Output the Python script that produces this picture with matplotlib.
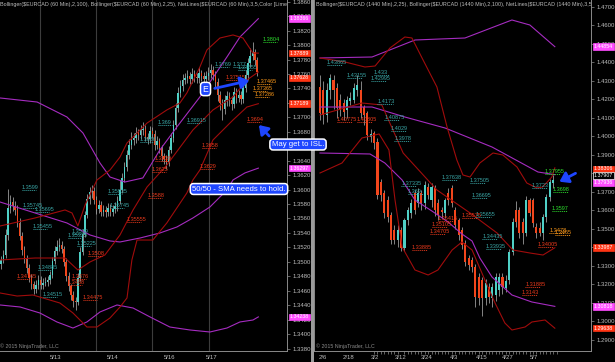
import matplotlib
matplotlib.use("Agg")
import matplotlib.pyplot as plt
from matplotlib.ticker import MultipleLocator, FormatStrFormatter

# ---------------- LEFT PANEL: $EURCAD 60 min ----------------
h_open = [1.3497,1.3503,1.3510,1.3537,1.3575,1.3583,1.3577,1.3572,1.3554,1.3536,
 1.3517,1.3504,1.3491,1.3478,1.3469,1.3462,1.3468,1.3475,1.3468,1.3471,
 1.3472,1.3475,1.3482,1.3501,1.3515,1.3521,1.3523,1.3518,1.3500,1.3480,
 1.3466,1.3454,1.3446,1.3444,1.3478,1.3514,1.3539,1.3565,1.3587,1.3596,
 1.3598,1.3586,1.3573,1.3579,1.3569,1.3572,1.3569,1.3575,1.3569,1.3573,
 1.3577,1.3584,1.3600,1.3616,1.3631,1.3648,1.3662,1.3669,1.3671,1.3678,
 1.3676,1.3682,1.3684,1.3673,1.3670,1.3681,1.3677,1.3662,1.3667,1.3658,
 1.3646,1.3642,1.3638,1.3655,1.3671,1.3689,1.3713,1.3734,1.3743,1.3752,
 1.3754,1.3757,1.3753,1.3760,1.3756,1.3754,1.3761,1.3757,1.3753,1.3757,
 1.3761,1.3766,1.3759,1.3749,1.3731,1.3720,1.3711,1.3724,1.3729,1.3724,
 1.3719,1.3735,1.3727,1.3731,1.3726,1.3740,1.3759,1.3775,1.3785,1.3790,
 1.3779]
h_close = [1.3503,1.3510,1.3537,1.3575,1.3583,1.3577,1.3572,1.3554,1.3536,1.3517,
 1.3504,1.3491,1.3478,1.3469,1.3462,1.3468,1.3475,1.3468,1.3471,1.3472,
 1.3475,1.3482,1.3501,1.3515,1.3521,1.3523,1.3518,1.3500,1.3480,1.3466,
 1.3454,1.3446,1.3444,1.3478,1.3514,1.3539,1.3565,1.3587,1.3596,1.3598,
 1.3586,1.3573,1.3579,1.3569,1.3572,1.3569,1.3575,1.3569,1.3573,1.3577,
 1.3584,1.3600,1.3616,1.3631,1.3648,1.3662,1.3669,1.3671,1.3678,1.3676,
 1.3682,1.3684,1.3673,1.3670,1.3681,1.3677,1.3662,1.3667,1.3658,1.3646,
 1.3642,1.3638,1.3655,1.3671,1.3689,1.3713,1.3734,1.3743,1.3752,1.3754,
 1.3757,1.3753,1.3760,1.3756,1.3754,1.3761,1.3757,1.3753,1.3757,1.3761,
 1.3766,1.3759,1.3749,1.3731,1.3720,1.3711,1.3724,1.3729,1.3724,1.3719,
 1.3735,1.3727,1.3731,1.3726,1.3740,1.3759,1.3775,1.3785,1.3790,1.3779,
 1.3763]
h_high = [1.3508,1.3516,1.3545,1.3601,1.3592,1.3590,1.3584,1.3578,1.3560,1.3541,
 1.3522,1.3510,1.3497,1.3483,1.3474,1.3475,1.3482,1.3480,1.3477,1.3479,
 1.3481,1.3488,1.3507,1.3522,1.3530,1.3533,1.3529,1.3522,1.3505,1.3486,
 1.3470,1.3460,1.3452,1.3484,1.3520,1.3546,1.3571,1.3594,1.3603,1.3606,
 1.3603,1.3591,1.3585,1.3584,1.3578,1.3577,1.3581,1.3580,1.3579,1.3583,
 1.3591,1.3613,1.3623,1.3638,1.3655,1.3670,1.3680,1.3679,1.3687,1.3684,
 1.3690,1.3693,1.3689,1.3679,1.3688,1.3686,1.3682,1.3674,1.3672,1.3662,
 1.3651,1.3648,1.3661,1.3678,1.3696,1.3720,1.3742,1.3751,1.3760,1.3762,
 1.3765,1.3763,1.3768,1.3766,1.3762,1.3769,1.3766,1.3763,1.3764,1.3769,
 1.3774,1.3771,1.3764,1.3754,1.3737,1.3726,1.3731,1.3737,1.3735,1.3730,
 1.3742,1.3741,1.3738,1.3737,1.3747,1.3766,1.3782,1.3796,1.3804,1.3794,
 1.3784]
h_low = [1.3490,1.3498,1.3505,1.3530,1.3568,1.3570,1.3565,1.3548,1.3530,1.3510,
 1.3498,1.3484,1.3472,1.3462,1.3455,1.3457,1.3463,1.3462,1.3463,1.3466,
 1.3467,1.3470,1.3478,1.3497,1.3510,1.3515,1.3512,1.3494,1.3474,1.3459,
 1.3447,1.3438,1.3433,1.3440,1.3474,1.3509,1.3534,1.3560,1.3580,1.3589,
 1.3580,1.3566,1.3567,1.3563,1.3563,1.3562,1.3564,1.3563,1.3563,1.3567,
 1.3571,1.3580,1.3595,1.3610,1.3626,1.3643,1.3656,1.3662,1.3665,1.3669,
 1.3670,1.3676,1.3667,1.3663,1.3665,1.3671,1.3655,1.3656,1.3651,1.3639,
 1.3635,1.3628,1.3632,1.3650,1.3666,1.3684,1.3708,1.3728,1.3737,1.3746,
 1.3748,1.3746,1.3747,1.3749,1.3747,1.3748,1.3750,1.3746,1.3747,1.3751,
 1.3755,1.3752,1.3742,1.3722,1.3710,1.3696,1.3704,1.3716,1.3715,1.3710,
 1.3713,1.3720,1.3721,1.3718,1.3720,1.3735,1.3752,1.3769,1.3779,1.3772,
 1.3757]

# Bollinger (2,100) purple, left panel
lp_up_x = [-0.4,15.5,28.3,35.2,42.5,46.8,53.2,60.9,68.2,75.5,85.4,97.0,102.6,110.5]
lp_up = [1.37268,1.37212,1.37005,1.36783,1.36368,1.36174,1.36105,1.36161,1.36548,1.36866,1.37282,1.37835,1.38112,1.38366]
lp_mid_x = [-0.4,28.3,38.2,46.8,51.1,59.7,68.2,75.5,82.4,89.7,97.0,99.6,104.7,110.5]
lp_mid = [1.35828,1.35538,1.35372,1.35289,1.35275,1.35330,1.35399,1.35482,1.35607,1.35759,1.35994,1.36133,1.36230,1.36297]
lp_lo_x = [-0.4,8.2,16.7,24.0,30.9,36.9,42.5,49.8,56.7,64.0,72.5,81.1,89.7,97.0,102.6,108.2,110.5]
lp_lo = [1.34403,1.34375,1.34292,1.34168,1.34084,1.34168,1.34306,1.34403,1.34361,1.34237,1.34098,1.34057,1.34029,1.34084,1.34168,1.34195,1.34238]
# Bollinger (2,25) dark red, left panel
lr_up_x = [-0.4,14.6,27.5,30.5,33.0,36.1,41.2,46.8,51.1,54.1,62.7,71.2,76.8,79.8,85.4,88.4,94.0,99.6,103.9,108.2,110.5]
lr_up = [1.35496,1.35607,1.35718,1.35676,1.35496,1.35787,1.36133,1.36271,1.36451,1.36645,1.36921,1.37102,1.37198,1.37337,1.37697,1.37932,1.38098,1.38140,1.38098,1.37889,1.37889]
lr_mid_x = [-0.4,14.6,27.5,33.0,38.2,44.6,51.1,56.7,62.7,71.2,82.4,91.0,99.6,105.6,110.5]
lr_mid = [1.35026,1.35053,1.35053,1.34887,1.34998,1.35095,1.35372,1.35718,1.36036,1.36340,1.36825,1.37102,1.37282,1.37517,1.37628]
lr_lo_x = [-0.4,6.9,13.7,25.3,30.9,36.9,41.2,46.8,51.1,54.1,56.2,58.4,65.2,71.2,79.8,82.4,85.4,91.0,99.6,105.6,110.5]
lr_lo = [1.34569,1.34527,1.34541,1.34430,1.34292,1.34098,1.34098,1.34223,1.34375,1.34500,1.35026,1.35302,1.35302,1.35538,1.35953,1.36133,1.36271,1.36686,1.36963,1.37143,1.37189]

l_date_pos = [23.6, 48.1, 72.5, 90.6]
l_date_lbl = ["5/13", "5/14", "5/16", "5/17"]
l_session_pos = [16.7, 40.8, 64.8, 89.3]

l_net_teal = ["1.3769","1.377","1.37655","1.369","1.36915","1.3666","1.3599","1.35745","1.35695",
              "1.35455","1.3539","1.35325","1.35225","1.34885","1.35935","1.35745","1.34515"]
l_net_teal_at = [91.8,99.6,101.7,67.4,79.8,59.7,9.0,9.4,14.6,13.7,30.5,28.8,32.6,15.9,45.9,46.8,18.0]
l_net_red = ["1.3694","1.3658","1.3639","1.3629","1.3625","1.34765","1.3508","1.3476","1.3468",
             "1.34475","1.3588","1.35555","1.37515"]
l_net_red_at = [105.6,86.3,66.1,85.4,64.8,6.9,37.3,30.5,28.8,35.2,63.1,54.1,96.5]
l_net_orange = ["1.37465","1.37365","1.37286"]
l_net_orange_at = [109.9,108.2,109.0]
l_net_green = ["1.3804"]
l_net_green_at = [112.4]

l_marks = ["1.38366","1.37889","1.37628","1.37189","1.36297","1.34238"]
l_mark_kind = ["m","r","r","r","m","m"]

# ---------------- RIGHT PANEL: $EURCAD 1440 min ----------------
d_open = [1.4268,1.4252,1.4116,1.4252,1.4306,1.4262,1.4197,1.4181,1.4143,1.4192,
 1.4197,1.4252,1.4252,1.4159,1.4127,1.3997,1.4019,1.3970,1.3754,1.3695,
 1.3657,1.3576,1.3495,1.3441,1.3495,1.3398,1.3549,1.3587,1.3695,1.3641,
 1.3695,1.3641,1.3727,1.3657,1.3722,1.3641,1.3603,1.3587,1.3695,1.3722,
 1.3603,1.3549,1.3495,1.3425,1.3344,1.3333,1.3295,1.3241,1.3224,1.3127,
 1.3187,1.3127,1.3143,1.3170,1.3241,1.3181,1.3224,1.3376,1.3603,1.3603,
 1.3538,1.3479,1.3657,1.3657,1.3511,1.3506,1.3479,1.3565,1.3673,1.3749]
d_high = [1.4333,1.4300,1.4290,1.4340,1.4333,1.4290,1.4230,1.4200,1.4220,1.4240,
 1.4290,1.4330,1.4300,1.4170,1.4140,1.4040,1.4030,1.3990,1.3770,1.3710,
 1.3680,1.3590,1.3520,1.3520,1.3510,1.3560,1.3620,1.3660,1.3710,1.3720,
 1.3710,1.3760,1.3750,1.3750,1.3740,1.3660,1.3620,1.3670,1.3720,1.3740,
 1.3620,1.3560,1.3510,1.3440,1.3360,1.3350,1.3310,1.3260,1.3240,1.3230,
 1.3210,1.3210,1.3260,1.3260,1.3260,1.3250,1.3390,1.3560,1.3650,1.3620,
 1.3560,1.3680,1.3670,1.3670,1.3530,1.3540,1.3580,1.3690,1.3770,1.3790]
d_low = [1.4089,1.4070,1.4080,1.4200,1.4150,1.4100,1.4110,1.4090,1.4100,1.4170,
 1.4180,1.4220,1.4100,1.4060,1.3980,1.3970,1.3930,1.3660,1.3650,1.3560,
 1.3540,1.3420,1.3420,1.3400,1.3380,1.3380,1.3520,1.3560,1.3580,1.3620,
 1.3600,1.3610,1.3660,1.3620,1.3570,1.3550,1.3560,1.3560,1.3630,1.3620,
 1.3500,1.3440,1.3390,1.3300,1.3280,1.3270,1.3080,1.3090,1.3030,1.3090,
 1.3100,1.3080,1.3110,1.3140,1.3150,1.3160,1.3200,1.3360,1.3510,1.3450,
 1.3420,1.3460,1.3570,1.3510,1.3450,1.3460,1.3440,1.3540,1.3650,1.3720]
d_close = [1.4127,1.4116,1.4252,1.4316,1.4252,1.4154,1.4143,1.4132,1.4197,1.4208,
 1.4262,1.4279,1.4127,1.4116,1.4008,1.4013,1.3965,1.3684,1.3684,1.3587,
 1.3565,1.3441,1.3441,1.3495,1.3398,1.3549,1.3603,1.3641,1.3603,1.3695,
 1.3641,1.3738,1.3684,1.3727,1.3603,1.3576,1.3592,1.3657,1.3657,1.3641,
 1.3522,1.3468,1.3414,1.3322,1.3306,1.3295,1.3133,1.3127,1.3127,1.3208,
 1.3133,1.3187,1.3241,1.3241,1.3187,1.3219,1.3376,1.3538,1.3538,1.3479,
 1.3479,1.3657,1.3587,1.3533,1.3479,1.3479,1.3565,1.3673,1.3754,1.3765]

rp_up_x = [0,15.4,28.1,42.9,56.8,62.1,69.5]
rp_up = [1.44243,1.44297,1.45216,1.45324,1.46297,1.46027,1.44854]
rp_mid_x = [0,15.4,25.1,37.0,50.9,64.5,69.5]
rp_mid = [1.41594,1.41594,1.41054,1.40459,1.39432,1.38081,1.37936]
rp_lo_x = [0,14.8,19.2,24.3,28.1,33.1,37.9,42.0,45.0,47.3,50.9,56.8,62.7,69.5]
rp_lo = [1.39108,1.39054,1.38567,1.37648,1.36567,1.35973,1.35378,1.34729,1.34351,1.33432,1.32405,1.31432,1.31054,1.30818]
rr_up_x = [0,7.4,13.3,16.3,20.7,25.1,27.2,30.5,34.6,37.6,40.5,42.3,44.4,47.3,51.2,54.1,58.3,61.2,64.2,65.9,68.6,69.5]
rr_up = [1.44243,1.44027,1.43756,1.43810,1.44783,1.45378,1.45324,1.44135,1.42675,1.40513,1.38729,1.37919,1.37810,1.38567,1.39108,1.39000,1.38351,1.37486,1.37216,1.37270,1.37810,1.38306]
rr_mid_x = [0,12.4,18.3,24.6,34.6,44.4,52.4,57.1,62.1,66.0,69.5]
rr_mid = [1.41162,1.41811,1.41703,1.39108,1.37108,1.35865,1.34784,1.33865,1.33703,1.33594,1.33987]
rr_lo_x = [0,6.5,12.4,17.5,20.4,22.2,24.3,28.1,32.0,34.9,39.1,42.0,45.0,48.8,51.8,54.7,56.8,60.7,62.7,66.6,69.5]
rr_lo = [1.38027,1.38567,1.39919,1.40135,1.39270,1.36567,1.34027,1.32784,1.32514,1.32784,1.33865,1.34297,1.33865,1.32243,1.31000,1.29919,1.29540,1.29703,1.29973,1.30081,1.29638]

r_date_pos = [0.9, 8.3, 16.3, 24.0, 31.7, 39.6, 47.9, 55.6, 63.3]
r_date_lbl = ["2/6", "2/18", "3/2", "3/12", "3/24", "4/3", "4/15", "4/27", "5/7"]

r_net_teal = ["1.43865","1.43155","1.433","1.42995","1.4173","1.40875","1.4029","1.3978","1.37638",
              "1.37505","1.37335","1.369","1.36695","1.35655","1.34435","1.33935","1.3723"]
r_net_teal_at = [2,8,16,15,17,19,21,22,36.1,44.4,24,26,45,46,48,49,62.7]
r_net_red = ["1.40775","1.40805","1.35105","1.34705","1.33885","1.35415","1.35575","1.31885","1.3143","1.34005"]
r_net_red_at = [5.0,10.9,33.1,32.5,27.2,34.9,42.0,60.7,59.8,64.5]
r_net_green = ["1.37955","1.3698","1.3597"]
r_net_green_at = [66.6,68.9,68.6]
r_net_orange = ["1.3478","1.3465"]
r_net_orange_at = [67.8,69.5]

r_marks = ["1.44854","1.38306","1.37936","1.37907","1.33987","1.30818","1.29638"]
r_mark_kind = ["m","r","m","k","r","m","r"]

# ---------------- styling ----------------
W, H = 615, 362
BG = "black"
UP = "#4fd0c6"
DN = "#f2461c"
WICK = "#a8a8a8"
BAND_R = "#a00c0c"
BAND_P = "#a52cc0"
TXT = "#bdbdbd"
SPINE = "#8a8a8a"
NET = {"teal": "#3aa7a7", "red": "#ec3a1c", "orange": "#ff9a1a", "green": "#2ee02e"}
MARK = {"m": "#ff4cff", "r": "#ff3414", "k": "black"}
BLUE = "#1e46ff"

plt.rcParams["font.family"] = ["Liberation Sans", "DejaVu Sans"]

fig = plt.figure(figsize=(W / 100, H / 100), dpi=100, facecolor=BG)
axL = fig.add_axes([0 / W, 11 / H, 287 / W, 351 / H], facecolor=BG)
axR = fig.add_axes([314 / W, 11 / H, 277 / W, 351 / H], facecolor=BG)

# separator between panels
fig.patches.append(plt.Rectangle((310.5 / W, 0), 3 / W, 1, transform=fig.transFigure,
                                  facecolor="#9a9a9a", edgecolor="none", zorder=0))


def draw_candles(ax, o, h, l, c, width):
    xs = list(range(len(o)))
    cols = [UP if cc >= oo else DN for oo, cc in zip(o, c)]
    ax.vlines(xs, l, h, color=WICK, lw=0.55, zorder=2)
    bottoms = [min(oo, cc) for oo, cc in zip(o, c)]
    heights = [max(abs(cc - oo), 0.00008) for oo, cc in zip(o, c)]
    ax.bar(xs, heights, bottom=bottoms, width=width, color=cols, linewidth=0, zorder=3)


def draw_net(ax, texts, pos, color, seg, fs=4.0):
    for t, x in zip(texts, pos):
        p = float(t)
        ax.text(x, p, t, color=color, fontsize=fs, ha="left", va="bottom", zorder=6,
                clip_on=True)
        ax.plot([x, x + seg], [p, p], color=color, lw=0.7, ls=(0, (1, 1)), zorder=6)


def draw_marks(ax, texts, kinds, offsets_px):
    for t, k, off in zip(texts, kinds, offsets_px):
        fc = MARK[k]
        ec = "white" if k == "k" else fc
        ax.annotate(t, xy=(1.0, float(t)), xycoords=("axes fraction", "data"),
                    xytext=(2.0, -off * 0.72), textcoords="offset points",
                    ha="left", va="center", fontsize=3.8, color="white",
                    bbox=dict(boxstyle="square,pad=0.15", fc=fc, ec=ec, lw=0.5),
                    annotation_clip=False, zorder=8)


def style_axis(ax, ylo, yhi, step, xlo, xhi, left_spine):
    ax.set_ylim(ylo, yhi)
    ax.set_xlim(xlo, xhi)
    ax.yaxis.tick_right()
    ax.yaxis.set_major_locator(MultipleLocator(step))
    ax.yaxis.set_major_formatter(FormatStrFormatter("%.4f"))
    ax.tick_params(axis="y", colors=SPINE, labelcolor=TXT, labelsize=4.3, length=2.5,
                   width=0.5, pad=1.5)
    ax.tick_params(axis="x", colors=SPINE, labelcolor=TXT, labelsize=4.3, length=0, pad=3)
    ax.spines["top"].set_visible(False)
    ax.spines["left"].set_visible(left_spine)
    for side in ["right", "bottom", "left"]:
        ax.spines[side].set_color(SPINE)
        ax.spines[side].set_linewidth(0.7)


# ----- left panel -----
style_axis(axL, 1.33766, 1.38624, 0.002, -0.43, 122.8, False)
for gx in l_session_pos:
    axL.axvline(gx, color="#3c3c3c", lw=0.8, zorder=1)
axL.plot(lp_up_x, lp_up, color=BAND_P, lw=0.8, zorder=4)
axL.plot(lp_mid_x, lp_mid, color=BAND_P, lw=0.8, zorder=4)
axL.plot(lp_lo_x, lp_lo, color=BAND_P, lw=0.8, zorder=4)
axL.plot(lr_up_x, lr_up, color=BAND_R, lw=0.8, zorder=4)
axL.plot(lr_mid_x, lr_mid, color=BAND_R, lw=0.8, zorder=4)
axL.plot(lr_lo_x, lr_lo, color=BAND_R, lw=0.8, zorder=4)
draw_candles(axL, h_open, h_high, h_low, h_close, 0.62)
draw_net(axL, l_net_teal, l_net_teal_at, NET["teal"], 6.0)
draw_net(axL, l_net_red, l_net_red_at, NET["red"], 6.0)
draw_net(axL, l_net_orange, l_net_orange_at, NET["orange"], 6.0)
draw_net(axL, l_net_green, l_net_green_at, NET["green"], 6.0)
axL.set_xticks(l_date_pos)
axL.set_xticklabels(l_date_lbl)
draw_marks(axL, l_marks, l_mark_kind, [0, 0, 6, 0, 0, 0])
axL.text(0.0, 0.995, "Bollinger($EURCAD (60 Min),2,100), Bollinger($EURCAD (60 Min),2,25), "
         "NetLines($EURCAD (60 Min),3,5,Color [Lime],Color [Red],Color [Orange])",
         transform=axL.transAxes, fontsize=3.9, color=TXT, ha="left", va="top", clip_on=True)
axL.text(0.0, 0.006, "\u00a9 2015 NinjaTrader, LLC", transform=axL.transAxes, fontsize=3.8,
         color="#8c8c8c", ha="left", va="bottom")

# ----- right panel -----
style_axis(axR, 1.28405, 1.47378, 0.01, -1.78, 80.2, True)
axR.plot(rp_up_x, rp_up, color=BAND_P, lw=0.8, zorder=4)
axR.plot(rp_mid_x, rp_mid, color=BAND_P, lw=0.8, zorder=4)
axR.plot(rp_lo_x, rp_lo, color=BAND_P, lw=0.8, zorder=4)
axR.plot(rr_up_x, rr_up, color=BAND_R, lw=0.8, zorder=4)
axR.plot(rr_mid_x, rr_mid, color=BAND_R, lw=0.8, zorder=4)
axR.plot(rr_lo_x, rr_lo, color=BAND_R, lw=0.8, zorder=4)
draw_candles(axR, d_open, d_high, d_low, d_close, 0.62)
draw_net(axR, r_net_teal, r_net_teal_at, NET["teal"], 4.5)
draw_net(axR, r_net_red, r_net_red_at, NET["red"], 4.5)
draw_net(axR, r_net_green, r_net_green_at, NET["green"], 4.5)
draw_net(axR, r_net_orange, r_net_orange_at, NET["orange"], 4.5)
axR.set_xticks(r_date_pos)
axR.set_xticklabels(r_date_lbl)
axR.set_xticks(list(range(16, 71)), minor=True)
axR.tick_params(axis="x", which="minor", colors=SPINE, length=2.5, width=0.5)
draw_marks(axR, r_marks, r_mark_kind, [0, 1, 8, 0, 0, 0, 0])
axR.text(0.008, 0.995, "Bollinger($EURCAD (1440 Min),2,25), Bollinger($EURCAD (1440 Min),2,100), "
         "NetLines($EURCAD (1440 Min),3,5,Color [Lime],Color [Red],Color [Orange])",
         transform=axR.transAxes, fontsize=3.9, color=TXT, ha="left", va="top", clip_on=True)
axR.text(0.008, 0.006, "\u00a9 2015 NinjaTrader, LLC", transform=axR.transAxes, fontsize=3.8,
         color="#8c8c8c", ha="left", va="bottom")

# ----- blue call-outs (figure pixels, origin top-left converted) -----
box = dict(boxstyle="round,pad=0.25,rounding_size=0.4", fc=BLUE, ec="white", lw=1.1)


def callout(text, cx, cy, fs=5.6):
    fig.text(cx / W, 1 - cy / H, text, ha="center", va="center", fontsize=fs,
             color="white", bbox=box, zorder=20)


def arrow(x0, y0, x1, y1):
    fig.add_artist(matplotlib.patches.FancyArrowPatch(
        (x0 / W, 1 - y0 / H), (x1 / W, 1 - y1 / H), transform=fig.transFigure,
        arrowstyle="-|>,head_length=3.2,head_width=2.2", color=BLUE, lw=2.0,
        mutation_scale=1.6, zorder=19))


arrow(212, 89, 252, 80)
callout("E", 205.5, 89, fs=6.2)
arrow(271, 138, 257, 123)
callout("May get to ISL.", 298, 144.5)
callout("50/50 - SMA needs to hold.", 239, 189)
arrow(578, 172, 557, 183)

fig.savefig("out.png", dpi=100, facecolor=BG)
